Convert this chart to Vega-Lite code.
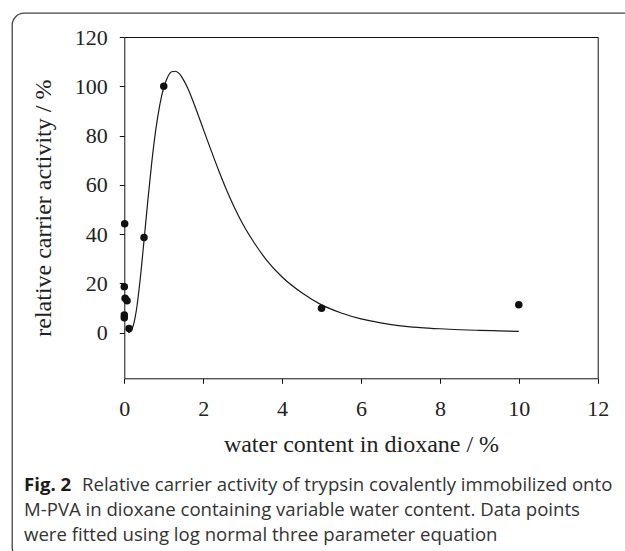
{
  "$schema": "https://vega.github.io/schema/vega-lite/v6.json",
  "width": 650,
  "height": 546,
  "autosize": {"type": "none"},
  "padding": {"left": 12, "top": 13, "right": -37, "bottom": -8},
  "background": "white",
  "datasets": {
    "measured": [
      {"water": 0.01, "activity": 44.2},
      {"water": 0, "activity": 18.7},
      {"water": 0.02, "activity": 14.0},
      {"water": 0.07, "activity": 13.0},
      {"water": 0, "activity": 7.2},
      {"water": 0, "activity": 6.1},
      {"water": 0.12, "activity": 1.7},
      {"water": 0.5, "activity": 38.6},
      {"water": 1, "activity": 100},
      {"water": 5, "activity": 9.9},
      {"water": 10, "activity": 11.3}
    ],
    "fit": [
      {"water": 0.1, "activity": 0.05},
      {"water": 0.15, "activity": 0.4},
      {"water": 0.2, "activity": 1.7},
      {"water": 0.25, "activity": 4.3},
      {"water": 0.3, "activity": 8.5},
      {"water": 0.4, "activity": 21.3},
      {"water": 0.5, "activity": 37.4},
      {"water": 0.6, "activity": 54.2},
      {"water": 0.7, "activity": 69.7},
      {"water": 0.8, "activity": 82.6},
      {"water": 0.9, "activity": 92.5},
      {"water": 1.0, "activity": 99.5},
      {"water": 1.1, "activity": 103.8},
      {"water": 1.2, "activity": 105.9},
      {"water": 1.3, "activity": 106.1},
      {"water": 1.4, "activity": 105.0},
      {"water": 1.5, "activity": 102.6},
      {"water": 1.6, "activity": 99.5},
      {"water": 1.8, "activity": 91.5},
      {"water": 2.0, "activity": 82.7},
      {"water": 2.2, "activity": 74.0},
      {"water": 2.4, "activity": 65.5},
      {"water": 2.6, "activity": 57.6},
      {"water": 2.8, "activity": 50.5},
      {"water": 3.0, "activity": 44.2},
      {"water": 3.3, "activity": 36.3},
      {"water": 3.6, "activity": 29.6},
      {"water": 4.0, "activity": 22.6},
      {"water": 4.5, "activity": 16.2},
      {"water": 5.0, "activity": 11.3},
      {"water": 5.5, "activity": 8.0},
      {"water": 6.0, "activity": 5.6},
      {"water": 6.5, "activity": 4.0},
      {"water": 7.0, "activity": 2.8},
      {"water": 7.5, "activity": 2.1},
      {"water": 8.0, "activity": 1.6},
      {"water": 8.5, "activity": 1.2},
      {"water": 9.0, "activity": 0.95},
      {"water": 9.5, "activity": 0.75},
      {"water": 10.0, "activity": 0.55}
    ]
  },
  "title": {
    "text": "Fig. 2",
    "subtitle": [
      "\u200b\u00a0\u00a0\u00a0\u00a0\u00a0\u00a0\u00a0\u00a0\u00a0\u00a0\u00a0\u00a0Relative carrier activity of trypsin covalently immobilized onto",
      "M-PVA in dioxane containing variable water content. Data points",
      "were fitted using log normal three parameter equation"
    ],
    "orient": "bottom",
    "anchor": "start",
    "frame": "group",
    "offset": -83.5,
    "dx": 12,
    "font": "Open Sans",
    "fontSize": 18.6,
    "fontWeight": "bold",
    "color": "#1a1a1a",
    "subtitleFont": "Open Sans",
    "subtitleFontSize": 18.6,
    "subtitleFontWeight": "normal",
    "subtitleColor": "#333333",
    "subtitleLineHeight": 25,
    "subtitlePadding": -18.6
  },
  "layer": [
    {
      "data": {"name": "fit"},
      "mark": {"type": "line", "color": "#1a1a1a", "strokeWidth": 1.2, "interpolate": "monotone"},
      "encoding": {
        "x": {
          "field": "water", "type": "quantitative",
          "scale": {"domain": [0, 12], "range": [112.3, 585.7], "nice": false, "zero": false},
          "axis": {"orient": "top", "offset": -24, "labels": false, "ticks": false, "title": null, "grid": false, "domain": true}
        },
        "y": {
          "field": "activity", "type": "quantitative",
          "scale": {"domain": [-18.5, 120], "range": [365.3, 24], "nice": false, "zero": false},
          "axis": {"orient": "right", "offset": -64.3, "labels": false, "ticks": false, "title": null, "grid": false, "domain": true}
        }
      }
    },
    {
      "data": {"name": "measured"},
      "mark": {"type": "point", "filled": true, "color": "#111111", "size": 56, "opacity": 1},
      "encoding": {
        "x": {
          "field": "water", "type": "quantitative",
          "scale": {"domain": [0, 12], "range": [112.3, 585.7], "nice": false, "zero": false},
          "axis": {
            "orient": "bottom", "offset": -180.7, "values": [0, 2, 4, 6, 8, 10, 12],
            "tickSize": 5, "labelPadding": 15, "labelFlush": false, "labelOverlap": false,
            "title": "water content in dioxane / %", "titlePadding": 13, "grid": false
          }
        },
        "y": {
          "field": "activity", "type": "quantitative",
          "scale": {"domain": [-18.5, 120], "range": [365.3, 24], "nice": false, "zero": false},
          "axis": {
            "orient": "left", "offset": -112.3, "values": [0, 20, 40, 60, 80, 100, 120],
            "tickSize": 5, "labelPadding": 12, "labelOverlap": false,
            "title": "relative carrier activity / %", "titlePadding": 19, "grid": false
          }
        }
      }
    }
  ],
  "resolve": {"axis": {"x": "independent", "y": "independent"}},
  "config": {
    "view": {"stroke": "#444444", "strokeWidth": 1.3, "cornerRadius": 12, "fill": "white"},
    "axis": {
      "domainColor": "#111111", "domainWidth": 1, "tickColor": "#111111", "tickWidth": 1,
      "labelFont": "Liberation Serif", "labelFontSize": 22, "labelColor": "#222222",
      "titleFont": "Liberation Serif", "titleFontSize": 24, "titleFontWeight": "normal", "titleColor": "#222222"
    }
  }
}
